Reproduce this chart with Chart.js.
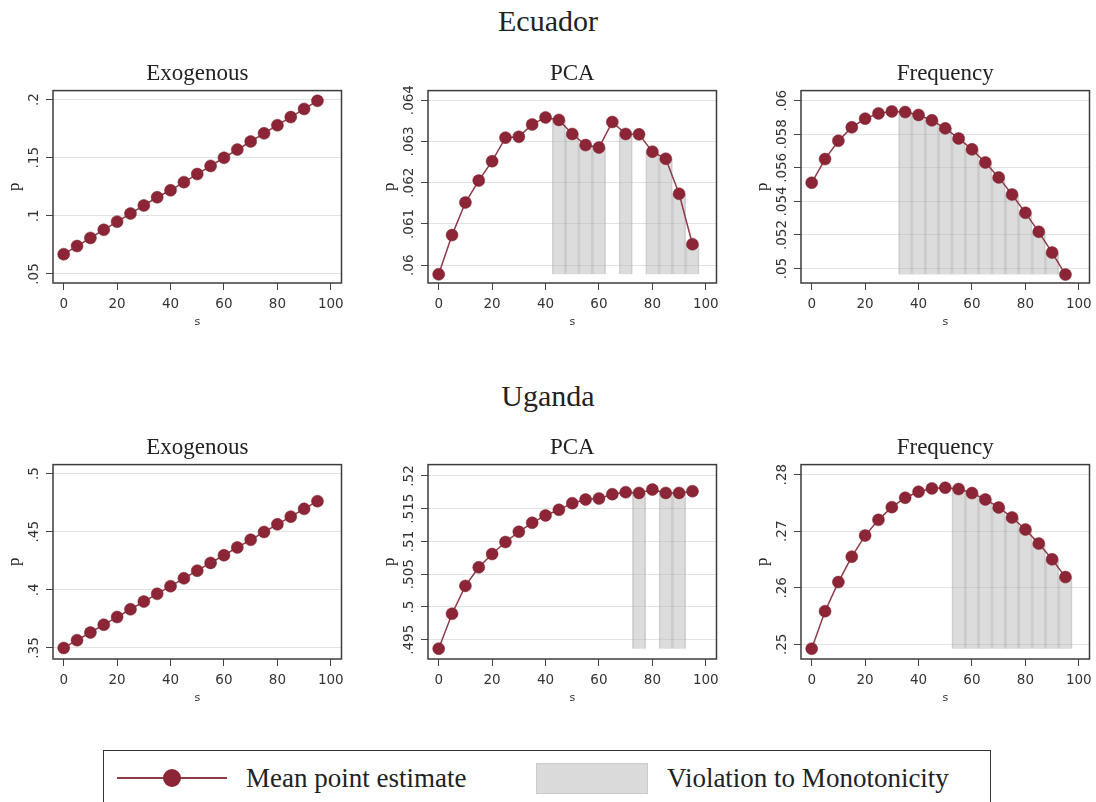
<!DOCTYPE html>
<html>
<head>
<meta charset="utf-8">
<script src="https://cdn.jsdelivr.net/npm/chart.js@4.4.1/dist/chart.umd.min.js"></script>
<style>
  body { margin: 0; background: #fff; }
  #page { position: relative; width: 1096px; height: 802px; overflow: hidden; background: #fff; }
  canvas { position: absolute; }
  .country { position: absolute; width: 1096px; left: 0; text-align: center; font-family: "Liberation Serif", serif; font-size: 30px; color: #222; }
  #legend { position: absolute; left: 103px; top: 750px; width: 888px; height: 70px; border: 1.5px solid #333; box-sizing: border-box; font-family: "Liberation Serif", serif; font-size: 27px; color: #222; }
  #legend .line { position: absolute; left: 13px; top: 26px; width: 110px; height: 2px; background: #8f3a47; }
  #legend .dot { position: absolute; left: 59px; top: 18px; width: 18px; height: 18px; border-radius: 50%; background: #8c2637; }
  #legend .swatch { position: absolute; left: 432px; top: 12px; width: 112px; height: 31px; background: #dadada; border: 1px solid #cacaca; box-sizing: border-box; }
  #legend .txt { position: absolute; top: 10px; line-height: 34px; }
</style>
</head>
<body>
<div id="page">
  <div class="country" style="top:4px">Ecuador</div>
  <div class="country" style="top:379px">Uganda</div>
  <div id="legend">
    <div class="line"></div><div class="dot"></div>
    <div class="txt" style="left:142px">Mean point estimate</div>
    <div class="swatch"></div>
    <div class="txt" style="left:563px">Violation to Monotonicity</div>
  </div>
</div>
<script>
// s grid shared by every panel
const sValues = [0, 5, 10, 15, 20, 25, 30, 35, 40, 45, 50, 55, 60, 65, 70, 75, 80, 85, 90, 95];
const xTicks = [0, 20, 40, 60, 80, 100];

// Ecuador
const ecuadorExo = [0.067, 0.074, 0.081, 0.088, 0.095, 0.102, 0.109, 0.116, 0.122, 0.129, 0.136, 0.143, 0.150, 0.157, 0.164, 0.171, 0.178, 0.185, 0.192, 0.199];
const ecuadorPca = [0.05978, 0.06073, 0.06152, 0.06205, 0.06252, 0.06309, 0.06311, 0.06341, 0.06358, 0.06352, 0.06318, 0.06291, 0.06285, 0.06347, 0.06318, 0.06317, 0.06275, 0.06258, 0.06173, 0.06051];
const ecuadorFreq = [0.05511, 0.05652, 0.05761, 0.05841, 0.05893, 0.05924, 0.05936, 0.05932, 0.05915, 0.05883, 0.05835, 0.05775, 0.05710, 0.05632, 0.05543, 0.05441, 0.05332, 0.05219, 0.05095, 0.04964];
const ecuadorPcaViolations = [45, 50, 55, 60, 70, 80, 85, 90, 95];
const ecuadorFreqViolations = [35, 40, 45, 50, 55, 60, 65, 70, 75, 80, 85, 90, 95];

// Uganda
const ugandaExo = [0.3500, 0.3567, 0.3633, 0.3700, 0.3766, 0.3833, 0.3899, 0.3966, 0.4032, 0.4099, 0.4165, 0.4232, 0.4298, 0.4365, 0.4431, 0.4498, 0.4564, 0.4630, 0.4697, 0.4763];
const ugandaPca = [0.49363, 0.49896, 0.50322, 0.50606, 0.50808, 0.50991, 0.51148, 0.51285, 0.51397, 0.51483, 0.51584, 0.51640, 0.51655, 0.51721, 0.51752, 0.51741, 0.51792, 0.51741, 0.51741, 0.51767];
const ugandaFreq = [0.24923, 0.25586, 0.26101, 0.26550, 0.26923, 0.27201, 0.27426, 0.27592, 0.27698, 0.27757, 0.27769, 0.27746, 0.27675, 0.27562, 0.27420, 0.27243, 0.27030, 0.26781, 0.26503, 0.26189];
const ugandaPcaViolations = [75, 85, 90];
const ugandaFreqViolations = [55, 60, 65, 70, 75, 80, 85, 90, 95];

// y tick labels per panel
const ticksEcExo = [0.05, 0.1, 0.15, 0.2];
const ticksEcPca = [0.06, 0.061, 0.062, 0.063, 0.064];
const ticksEcFreq = [0.05, 0.052, 0.054, 0.056, 0.058, 0.06];
const ticksUgExo = [0.35, 0.4, 0.45, 0.5];
const ticksUgPca = [0.495, 0.5, 0.505, 0.51, 0.515, 0.52];
const ticksUgFreq = [0.25, 0.26, 0.27, 0.28];

const panels = [
  { title: 'Exogenous', values: ecuadorExo, viol: [], yTicks: ticksEcExo, yMin: 0.0422, yMax: 0.2078, col: 0, row: 0 },
  { title: 'PCA', values: ecuadorPca, viol: ecuadorPcaViolations, yTicks: ticksEcPca, yMin: 0.05957, yMax: 0.06423, col: 1, row: 0 },
  { title: 'Frequency', values: ecuadorFreq, viol: ecuadorFreqViolations, yTicks: ticksEcFreq, yMin: 0.04914, yMax: 0.0606, col: 2, row: 0 },
  { title: 'Exogenous', values: ugandaExo, viol: [], yTicks: ticksUgExo, yMin: 0.3405, yMax: 0.5078, col: 0, row: 1 },
  { title: 'PCA', values: ugandaPca, viol: ugandaPcaViolations, yTicks: ticksUgPca, yMin: 0.49206, yMax: 0.52173, col: 1, row: 1 },
  { title: 'Frequency', values: ugandaFreq, viol: ugandaFreqViolations, yTicks: ticksUgFreq, yMin: 0.24741, yMax: 0.28178, col: 2, row: 1 },
];

// layout of the plot boxes
const boxLeft = [53, 428, 801];
const boxTop = [91, 465];
const boxH = [192, 194];
const boxW = 290;
const yAxisW = 53, xAxisH = 48, titleH = 31, rightPad = 5;

const stripZero = v => String(v).replace(/^0\./, '.');

// box outline + rotated y tick labels (Stata look)
const stataFrame = {
  id: 'stataFrame',
  afterDatasetsDraw(chart) {
    const { ctx, chartArea: a } = chart;
    ctx.save();
    ctx.strokeStyle = '#3c3c3c';
    ctx.lineWidth = 1.5;
    ctx.strokeRect(a.left, a.top, a.right - a.left, a.bottom - a.top);
    ctx.restore();
  },
  afterDraw(chart) {
    const { ctx, chartArea: a } = chart;
    const y = chart.scales.y;
    ctx.save();
    ctx.font = '13.5px "DejaVu Sans"';
    ctx.fillStyle = '#333';
    ctx.textAlign = 'center';
    ctx.textBaseline = 'middle';
    y.ticks.forEach(t => {
      ctx.save();
      ctx.translate(a.left - 19, y.getPixelForValue(t.value));
      ctx.rotate(-Math.PI / 2);
      ctx.fillText(stripZero(t.value), 0, 0);
      ctx.restore();
    });
    ctx.restore();
  }
};

const page = document.getElementById('page');

panels.forEach(p => {
  const cv = document.createElement('canvas');
  const w = yAxisW + boxW + rightPad;
  const h = titleH + boxH[p.row] + xAxisH;
  cv.width = w; cv.height = h;
  cv.style.left = (boxLeft[p.col] - yAxisW) + 'px';
  cv.style.top = (boxTop[p.row] - titleH) + 'px';
  page.appendChild(cv);

  const base = Math.min(...p.values);
  const lineData = sValues.map((s, i) => ({ x: s, y: p.values[i] }));
  const barData = p.viol.map(s => ({ x: s, y: [base, p.values[sValues.indexOf(s)]] }));

  new Chart(cv.getContext('2d'), {
    type: 'line',
    data: {
      datasets: [
        {
          type: 'line',
          data: lineData,
          borderColor: '#8f3a47',
          borderWidth: 1.5,
          pointRadius: 6,
          pointBackgroundColor: '#8c2637',
          pointBorderColor: '#7d2030',
          pointBorderWidth: 0.5,
          clip: false,
          order: 1,
        },
        {
          type: 'bar',
          data: barData,
          backgroundColor: 'rgba(185,185,185,0.5)',
          borderColor: 'rgba(150,150,150,0.4)',
          borderWidth: { left: 1, right: 1, top: 0, bottom: 0 },
          borderSkipped: false,
          barPercentage: 1,
          categoryPercentage: 1,
          order: 2,
        },
      ],
    },
    options: {
      responsive: false,
      animation: false,
      layout: { padding: { left: 0, right: rightPad, top: 0, bottom: 0 } },
      plugins: {
        legend: { display: false },
        tooltip: { enabled: false },
        title: {
          display: true,
          text: p.title,
          fullSize: false,
          color: '#222',
          font: { family: 'Liberation Serif', size: 23, weight: 'normal', lineHeight: 1.2 },
          padding: { top: 0, bottom: 3 },
        },
      },
      scales: {
        x: {
          type: 'linear',
          min: -4,
          max: 104,
          offset: false,
          grid: { display: true, offset: false, drawOnChartArea: false, tickLength: 7, tickColor: '#444', lineWidth: 1 },
          border: { display: false },
          afterBuildTicks: sc => { sc.ticks = xTicks.map(v => ({ value: v })); },
          afterFit: sc => { sc.height = xAxisH; sc.paddingLeft = 0; sc.paddingRight = 0; sc.paddingTop = 0; sc.paddingBottom = 0; },
          ticks: { maxRotation: 0, autoSkip: false, padding: 6, color: '#333', font: { family: 'DejaVu Sans', size: 13.5 } },
          title: { display: true, text: 's', color: '#333', font: { family: 'DejaVu Sans', size: 11 }, padding: { top: 0, bottom: 2.4 } },
        },
        y: {
          type: 'linear',
          min: p.yMin,
          max: p.yMax,
          grid: { color: '#e2e2e2', lineWidth: 1, tickLength: 7, tickColor: '#444' },
          border: { display: false },
          afterBuildTicks: sc => { sc.ticks = p.yTicks.map(v => ({ value: v })); },
          afterFit: sc => { sc.width = yAxisW; sc.paddingLeft = 0; sc.paddingRight = 0; sc.paddingTop = 0; sc.paddingBottom = 0; },
          ticks: { display: false },
          title: { display: true, text: 'p', color: '#222', font: { family: 'Liberation Serif', size: 17 }, padding: { top: 4, bottom: 0 } },
        },
      },
    },
    plugins: [stataFrame],
  });
});
</script>
</body>
</html>
